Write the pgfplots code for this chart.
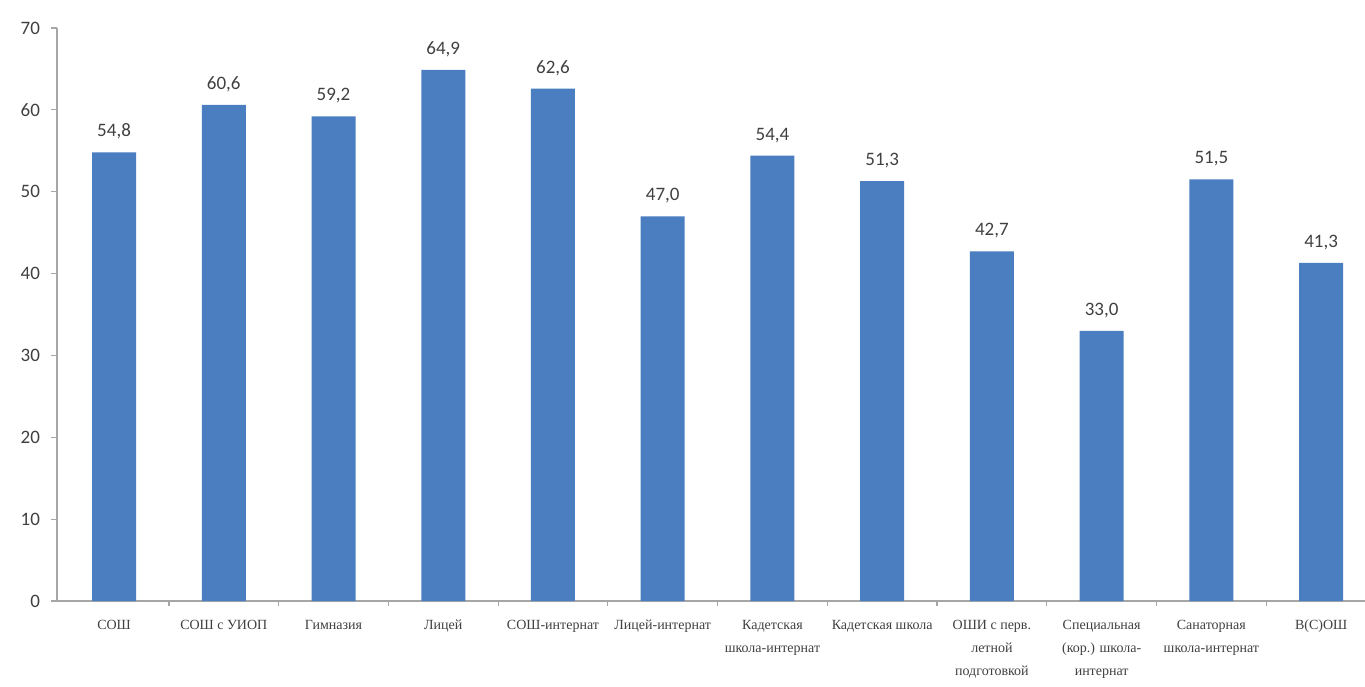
\documentclass[border=0pt]{standalone}
\usepackage{pgfplots}
\pgfplotsset{compat=1.18}
\usepackage{fontspec}
\setmainfont{Carlito}
\newfontfamily\catfont{Liberation Serif}
\definecolor{barblue}{HTML}{4A7EC1}
\definecolor{axgray}{HTML}{A6A6A6}
\definecolor{txtgray}{HTML}{404040}
\begin{document}
\begin{tikzpicture}
\begin{axis}[
  at={(0,0)}, anchor=south west,
  scale only axis,
  width=654pt, height=286.5pt,
  xmin=-0.52, xmax=11.4,
  ymin=0, ymax=70,
  ytick={0,10,...,70},
  xtick={0,...,11},
  minor xtick={0.5,1.5,...,10.5},
  axis x line*=bottom, axis y line*=left,
  axis line style={axgray, line width=0.6pt},
  every tick/.style={axgray, line width=0.6pt},
  major tick length=3pt, minor tick length=2.5pt,
  tick align=outside,
  major x tick style={draw=none},
  minor x tick style={axgray},
  xticklabels={СОШ, СОШ с УИОП, Гимназия, Лицей, СОШ-интернат, Лицей-интернат, Кадетская\\школа-интернат, Кадетская школа, ОШИ с перв.\\летной\\подготовкой, Специальная\\(кор.) школа-\\интернат, Санаторная\\школа-интернат, В(С)ОШ},
  x tick label style={font=\catfont\fontsize{7}{11.5}\selectfont, align=center, text=txtgray, anchor=north, yshift=-3pt},
  y tick label style={font=\fontsize{9.5}{11}\selectfont, text=txtgray, xshift=-2pt},
  /pgf/number format/assume math mode=true,
  nodes near coords,
  nodes near coords style={font=\fontsize{9.5}{11}\selectfont, text=txtgray, yshift=3pt,
    /pgf/number format/use comma, /pgf/number format/fixed, /pgf/number format/fixed zerofill, /pgf/number format/precision=1, /pgf/number format/assume math mode=true},
]
\addplot[ybar, bar width=22pt, fill=barblue, draw=none] coordinates {
(0,54.8) (1,60.6) (2,59.2) (3,64.9) (4,62.6) (5,47.0) (6,54.4) (7,51.3) (8,42.7) (9,33.0) (10,51.5) (11,41.3)
};
\end{axis}
\pgfresetboundingbox
\path[use as bounding box] (-28.5pt,-42.5pt) rectangle (654pt,300.5pt);
\end{tikzpicture}
\end{document}
